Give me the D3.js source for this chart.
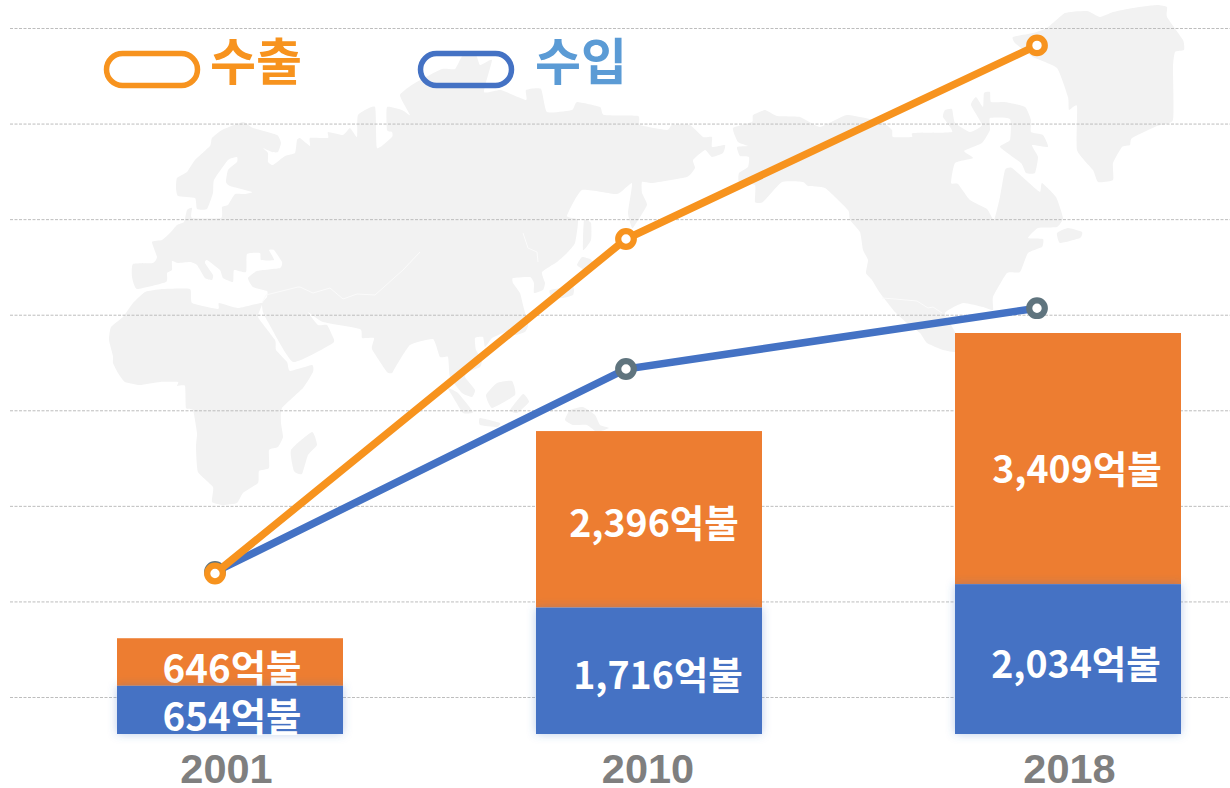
<!DOCTYPE html>
<html lang="ko">
<head>
<meta charset="utf-8">
<title>수출 수입</title>
<script src="https://cdn.jsdelivr.net/npm/d3@7"></script>
<style>
  html, body { margin: 0; padding: 0; background: #fff; }
  svg { display: block; }
</style>
</head>
<body>
<svg width="1230" height="788"></svg>
<script>
// values, in 억불
const years = ["2001", "2010", "2018"];
const exportValues = [646, 2396, 3409];
const importValues = [654, 1716, 2034];
const gridTicks = [0, 500, 1000, 1500, 2000, 2500, 3000, 3500];
const legendNames = ["수출", "수입"];

// label nudges, px from the middle of each bar segment
const exportNudge = [[2, 21], [5, 18], [9, 24]];
const importNudge = [[2, 21], [9, 18], [8, 19]];

// background world map, traced by hand in page pixels (decoration only)
const eurasia = [[133,264],[153,263],[157,257],[152,242],[162,240],[170,233],[177,225],[184,222],[187,210],[192,208],[192,218],[221,218],[222,207],[228,205],[235,194],[245,194],[252,192],[230,186],[226,182],[228,170],[237,162],[237,157],[228,160],[214,180],[213,193],[207,209],[197,209],[195,198],[178,196],[176,188],[177,178],[187,172],[195,160],[210,146],[212,138],[222,130],[243,122],[253,128],[277,135],[281,143],[278,152],[272,152],[263,148],[268,153],[268,162],[273,165],[285,156],[295,153],[297,140],[300,138],[310,146],[310,138],[328,138],[328,132],[343,135],[350,128],[357,137],[358,115],[375,107],[377,148],[392,137],[392,132],[387,130],[387,107],[402,110],[410,115],[400,95],[415,83],[442,69],[455,69],[463,55],[476,55],[480,65],[492,60],[484,92],[501,90],[526,100],[526,90],[541,89],[547,112],[572,110],[577,102],[600,107],[604,115],[638,116],[640,125],[667,130],[672,125],[690,125],[703,137],[712,137],[712,147],[725,145],[723,153],[712,157],[705,150],[693,160],[695,168],[687,177],[652,183],[642,182],[642,193],[647,205],[635,225],[632,228],[628,213],[632,183],[617,194],[582,190],[567,216],[578,220],[575,243],[567,253],[557,262],[542,272],[545,283],[543,290],[534,293],[534,283],[530,277],[513,278],[513,283],[520,293],[523,305],[528,325],[520,323],[505,332],[492,338],[485,347],[483,337],[475,338],[476,350],[482,360],[480,367],[468,372],[465,377],[475,390],[472,397],[462,393],[450,377],[448,357],[440,357],[433,339],[410,345],[395,368],[392,373],[387,372],[372,349],[374,338],[362,338],[360,329],[323,322],[308,312],[318,325],[327,325],[332,335],[333,343],[293,362],[268,322],[263,312],[262,303],[267,297],[267,291],[253,287],[248,278],[257,271],[280,268],[282,262],[274,250],[269,250],[274,260],[261,260],[260,253],[247,254],[246,272],[234,270],[233,282],[223,278],[220,270],[207,260],[205,263],[213,275],[212,280],[205,278],[197,265],[190,262],[178,263],[172,261],[172,270],[167,273],[166,282],[137,289],[132,277]];
const africa = [[145,292],[162,289],[190,289],[192,303],[218,309],[219,303],[238,308],[262,303],[258,317],[275,340],[276,350],[287,362],[290,371],[312,365],[313,372],[303,388],[282,408],[281,423],[283,437],[278,447],[269,450],[269,468],[259,471],[258,483],[243,493],[237,503],[223,505],[212,502],[213,487],[198,472],[196,447],[197,433],[193,410],[186,408],[185,386],[177,386],[178,382],[160,382],[140,385],[125,382],[118,373],[113,363],[113,356],[109,340],[111,327],[123,317],[133,303]];
const madagascar = [[312,432],[317,445],[308,455],[302,474],[294,471],[291,450]];
const northAmerica = [[733,128],[752,122],[753,115],[765,110],[777,116],[800,117],[820,127],[847,115],[882,122],[892,130],[893,137],[912,137],[913,133],[952,132],[943,117],[945,110],[952,109],[955,123],[970,132],[982,125],[971,105],[976,97],[983,107],[984,93],[990,92],[991,102],[1005,102],[1025,107],[1031,120],[1031,132],[1043,135],[1048,147],[1032,145],[1038,157],[1035,173],[1026,173],[1021,163],[1000,147],[1010,140],[1010,119],[990,118],[990,130],[982,143],[964,151],[973,158],[955,163],[951,183],[958,184],[970,200],[987,209],[994,220],[1000,197],[1005,170],[1012,168],[1028,182],[1040,192],[1042,183],[1056,197],[1063,218],[1057,227],[1038,228],[1028,238],[1043,239],[1042,247],[1028,253],[1020,272],[1007,273],[993,297],[993,310],[983,307],[963,303],[945,313],[955,332],[960,352],[943,350],[927,343],[920,333],[907,323],[895,312],[880,293],[872,280],[866,273],[868,260],[863,250],[860,232],[850,220],[848,210],[825,188],[808,186],[803,182],[782,182],[763,202],[755,202],[755,185],[739,182],[739,173],[748,167],[749,157],[740,156],[737,147],[748,146],[738,142]];
const greenland = [[1013,37],[1033,33],[1047,28],[1065,13],[1087,11],[1100,17],[1113,12],[1133,8],[1157,5],[1167,7],[1167,17],[1183,40],[1184,50],[1175,52],[1173,67],[1173,120],[1157,126],[1132,138],[1130,145],[1122,147],[1113,163],[1113,180],[1098,182],[1093,170],[1077,150],[1077,106],[1069,110],[1068,97],[1057,68],[1033,57],[1015,43]];
const islands = [
  [[1057,233],[1068,228],[1082,232],[1080,238],[1060,243]],
  [[584,220],[591,223],[591,240],[583,250]],
  [[577,265],[582,257],[590,259],[593,263],[585,270]],
  [[550,290],[573,287],[573,295],[563,298],[552,298]],
  [[513,330],[528,325],[525,332],[515,335]],
  [[448,388],[458,393],[473,412],[463,413],[453,397]],
  [[486,395],[497,383],[512,381],[515,395],[492,408]],
  [[510,410],[523,394],[529,402],[517,413]],
  [[480,418],[500,423],[497,427],[480,425]],
  [[565,420],[570,410],[583,407],[595,415],[600,425],[609,428],[597,432],[587,425],[573,425]]
];
const borders = [
  [[262,303],[266,295],[298,287],[300,287],[313,293],[330,288],[343,299],[357,294],[375,295],[403,270],[420,252]],
  [[523,233],[528,248],[537,252],[538,262]],
  [[882,298],[895,299],[917,301],[928,308],[933,307],[942,313]]
];

const width = 1230;
const height = 788;

const svg = d3.select("svg");

const mapLine = d3.line().curve(d3.curveCardinalClosed.tension(0.55));
const borderLine = d3.line();

const defs = svg.append("defs");
const glow = defs.append("filter")
  .attr("id", "bar-glow")
  .attr("x", "-15%").attr("y", "-15%")
  .attr("width", "130%").attr("height", "130%");
glow.append("feDropShadow")
  .attr("dx", 0).attr("dy", 0)
  .attr("stdDeviation", 5)
  .attr("flood-color", "#4472c4")
  .attr("flood-opacity", 0.35);

// map first, everything sits on top of it
const map = svg.append("g");
map.selectAll("path.land")
  .data([eurasia, africa, madagascar, northAmerica, greenland, ...islands])
  .enter()
  .append("path")
  .attr("class", "land")
  .attr("d", mapLine)
  .attr("fill", "#f2f2f2");
map.selectAll("path.border")
  .data(borders)
  .enter()
  .append("path")
  .attr("class", "border")
  .attr("d", borderLine)
  .attr("fill", "none")
  .attr("stroke", "#fbfbfb")
  .attr("stroke-width", 1);

// the lines and the grid share one scale, the bars have their own
const lineY = d3.scaleLinear().domain([0, 3500]).range([697, 28]);
const barY = d3.scaleLinear().domain([0, 5443]).range([734, 333]);

const lineX = d3.scalePoint().domain(years).range([215, 1037]);
const barX = d3.scalePoint().domain(years).range([230, 1068]);
const labelX = d3.scalePoint().domain(years).range([226, 1069]);
const barWidth = 226;

const grid = d3.axisLeft(lineY).tickValues(gridTicks).tickSize(-(width - 10)).tickFormat("");
const gridGroup = svg.append("g")
  .attr("transform", "translate(10,0)")
  .call(grid);
gridGroup.select(".domain").remove();
gridGroup.selectAll("line")
  .attr("stroke", "#bdbdbd")
  .attr("stroke-dasharray", "3 1.5");

// stacked bars
const rows = years.map((year, i) => ({
  year: year,
  imports: importValues[i],
  exports: exportValues[i],
}));
const stacked = d3.stack().keys(["imports", "exports"])(rows);
const barColors = { imports: "#4472c4", exports: "#ed7d31" };
const barNudge = { imports: importNudge, exports: exportNudge };

// top segment first: the blue bar hides the foot of the orange label in 2001
stacked.slice().reverse().forEach((s) => {
  const group = svg.append("g");
  group.append("g")
    .attr("fill", barColors[s.key])
    .attr("filter", s.key === "imports" ? "url(#bar-glow)" : null)
    .selectAll("rect")
    .data(s)
    .enter()
    .append("rect")
    .attr("x", (d) => barX(d.data.year) - barWidth / 2)
    .attr("y", (d) => barY(d[1]))
    .attr("width", barWidth)
    .attr("height", (d) => barY(d[0]) - barY(d[1]));
  group.append("g")
    .selectAll("text")
    .data(s)
    .enter()
    .append("text")
    .attr("x", (d, i) => barX(d.data.year) + barNudge[s.key][i][0])
    .attr("y", (d, i) => (barY(d[0]) + barY(d[1])) / 2 + barNudge[s.key][i][1])
    .attr("text-anchor", "middle")
    .attr("font-family", "'Noto Sans CJK KR', 'Noto Sans', sans-serif")
    .attr("font-weight", 700)
    .attr("font-size", (d) => (d.data[s.key] >= 1000 ? 37.5 : 38.5))
    .attr("fill", "#fff")
    .text((d) => d3.format(",")(d.data[s.key]) + "억불");
});

// year labels
const xAxis = d3.axisBottom(labelX).tickSize(0).tickPadding(0);
const xGroup = svg.append("g")
  .attr("transform", "translate(0,746)")
  .call(xAxis);
xGroup.select(".domain").remove();
xGroup.selectAll("text")
  .attr("font-family", "'Liberation Sans', Arial, sans-serif")
  .attr("font-weight", 700)
  .attr("font-size", 41.5)
  .attr("fill", "#7f7f7f")
  .attr("dy", 0)
  .attr("y", 37);

// lines, blue below orange
const seriesLine = d3.line()
  .x((d) => lineX(d.year))
  .y((d) => lineY(d.value));

const series = [
  { values: importValues, color: "#4472c4", ring: "#5f747e" },
  { values: exportValues, color: "#f7931e", ring: "#f7931e" },
];

series.forEach((s) => {
  const points = years.map((year, i) => ({ year: year, value: s.values[i] }));
  svg.append("path")
    .datum(points)
    .attr("d", seriesLine)
    .attr("fill", "none")
    .attr("stroke", s.color)
    .attr("stroke-width", 7.5);
  svg.append("g")
    .selectAll("circle")
    .data(points)
    .enter()
    .append("circle")
    .attr("cx", (d) => lineX(d.year))
    .attr("cy", (d) => lineY(d.value))
    .attr("r", 7.8)
    .attr("fill", "#fff")
    .attr("stroke", s.ring)
    .attr("stroke-width", 6.2);
});

// legend
const legendX = d3.scaleOrdinal().domain(legendNames).range([106.5, 420.5]);
const legendTextX = d3.scaleOrdinal().domain(legendNames).range([210, 535]);
const legendStroke = d3.scaleOrdinal().domain(legendNames).range(["#f7931e", "#4472c4"]);
const legendFill = d3.scaleOrdinal().domain(legendNames).range(["#f7931e", "#5b9bd5"]);

const legend = svg.append("g")
  .selectAll("g")
  .data(legendNames)
  .enter()
  .append("g");
legend.append("rect")
  .attr("x", (d) => legendX(d))
  .attr("y", 53.5)
  .attr("width", 91)
  .attr("height", 32)
  .attr("rx", 16)
  .attr("fill", "none")
  .attr("stroke", (d) => legendStroke(d))
  .attr("stroke-width", 5.5);
legend.append("text")
  .attr("x", (d) => legendTextX(d))
  .attr("y", 80)
  .attr("font-family", "'Noto Sans CJK KR', sans-serif")
  .attr("font-weight", 700)
  .attr("font-size", 50)
  .attr("fill", (d) => legendFill(d))
  .text((d) => d);
</script>
</body>
</html>
